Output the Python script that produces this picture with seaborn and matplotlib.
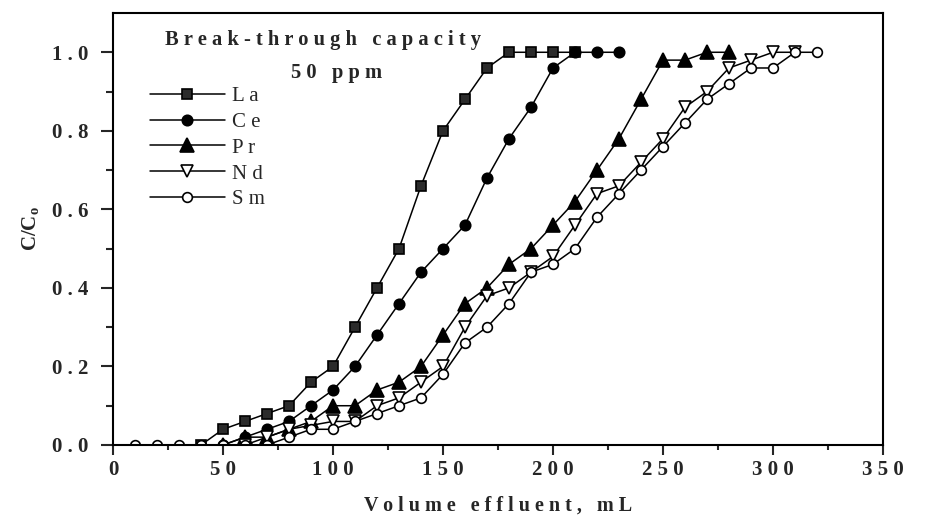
import numpy as np
import pandas as pd
import matplotlib
matplotlib.use("Agg")
import matplotlib.pyplot as plt
import seaborn as sns

# Break-through curves, 50 ppm feed, C/Co versus effluent volume (mL)
la_x = [40, 50, 60, 70, 80, 90, 100, 110, 120, 130, 140, 150, 160, 170, 180, 190, 200, 210]
la_y = [0.00, 0.04, 0.06, 0.08, 0.10, 0.16, 0.20, 0.30, 0.40, 0.50, 0.66, 0.80, 0.88, 0.96,
        1.00, 1.00, 1.00, 1.00]

ce_x = [50, 60, 70, 80, 90, 100, 110, 120, 130, 140, 150, 160, 170, 180, 190, 200, 210, 220, 230]
ce_y = [0.00, 0.02, 0.04, 0.06, 0.10, 0.14, 0.20, 0.28, 0.36, 0.44, 0.50, 0.56, 0.68, 0.78,
        0.86, 0.96, 1.00, 1.00, 1.00]

pr_x = [50, 60, 70, 80, 90, 100, 110, 120, 130, 140, 150, 160, 170, 180, 190, 200, 210, 220,
        230, 240, 250, 260, 270, 280]
pr_y = [0.00, 0.02, 0.02, 0.04, 0.06, 0.10, 0.10, 0.14, 0.16, 0.20, 0.28, 0.36, 0.40, 0.46,
        0.50, 0.56, 0.62, 0.70, 0.78, 0.88, 0.98, 0.98, 1.00, 1.00]

nd_x = [60, 70, 80, 90, 100, 110, 120, 130, 140, 150, 160, 170, 180, 190, 200, 210, 220, 230,
        240, 250, 260, 270, 280, 290, 300, 310]
nd_y = [0.00, 0.02, 0.04, 0.05, 0.06, 0.06, 0.10, 0.12, 0.16, 0.20, 0.30, 0.38, 0.40, 0.44,
        0.48, 0.56, 0.64, 0.66, 0.72, 0.78, 0.86, 0.90, 0.96, 0.98, 1.00, 1.00]

sm_x = [10, 20, 30, 40, 50, 60, 70, 80, 90, 100, 110, 120, 130, 140, 150, 160, 170, 180, 190,
        200, 210, 220, 230, 240, 250, 260, 270, 280, 290, 300, 310, 320]
sm_y = [0.00, 0.00, 0.00, 0.00, 0.00, 0.00, 0.00, 0.02, 0.04, 0.04, 0.06, 0.08, 0.10, 0.12,
        0.18, 0.26, 0.30, 0.36, 0.44, 0.46, 0.50, 0.58, 0.64, 0.70, 0.76, 0.82, 0.88, 0.92,
        0.96, 0.96, 1.00, 1.00]

series_names = ["La", "Ce", "Pr", "Nd", "Sm"]
x_ticks = [0, 50, 100, 150, 200, 250, 300, 350]
y_ticks = [0.0, 0.2, 0.4, 0.6, 0.8, 1.0]

data = {
    "La": (la_x, la_y),
    "Ce": (ce_x, ce_y),
    "Pr": (pr_x, pr_y),
    "Nd": (nd_x, nd_y),
    "Sm": (sm_x, sm_y),
}

styles = {
    "La": dict(marker="s", markersize=6.5, markerfacecolor="#2b2b2b", markeredgecolor="black"),
    "Ce": dict(marker="o", markersize=7.5, markerfacecolor="black", markeredgecolor="black"),
    "Pr": dict(marker="^", markersize=10, markerfacecolor="black", markeredgecolor="black"),
    "Nd": dict(marker="v", markersize=9, markerfacecolor="white", markeredgecolor="black"),
    "Sm": dict(marker="o", markersize=7, markerfacecolor="white", markeredgecolor="black"),
}

sns.set_theme(style="white")
serif = ["Liberation Serif", "DejaVu Serif"]
plt.rcParams["font.family"] = serif
plt.rcParams["mathtext.fontset"] = "custom"
plt.rcParams["mathtext.rm"] = "Liberation Serif:bold"
plt.rcParams["mathtext.bf"] = "Liberation Serif:bold"
plt.rcParams["mathtext.it"] = "Liberation Serif:bold"


def spaced(s, gap=" "):
    return gap.join(s)


fig = plt.figure(figsize=(9.28, 5.15), dpi=100)
ax = fig.add_axes([113 / 928, 1 - 445 / 515, 770 / 928, 432 / 515])

for name in series_names:
    xs, ys = data[name]
    df = pd.DataFrame({"volume": xs, "ratio": ys})
    sns.lineplot(data=df, x="volume", y="ratio", ax=ax, color="black", linewidth=1.1,
                 markeredgewidth=1.2, label=spaced(name), **styles[name])

ax.set_xlim(0, 350)
ax.set_ylim(0, 1.1)

ax.set_xticks(x_ticks)
ax.set_xticklabels([spaced(str(v)) for v in x_ticks])
ax.set_xticks(np.arange(25, 350, 50), minor=True)
ax.set_yticks(y_ticks)
ax.set_yticklabels([spaced(f"{v:.1f}") for v in y_ticks])
ax.set_yticks(np.arange(0.1, 1.1, 0.2), minor=True)

ax.tick_params(axis="x", which="major", direction="out", length=7, width=1.5,
               bottom=True, pad=4, labelsize=15)
ax.tick_params(axis="x", which="minor", direction="out", length=3.6, width=1.5, bottom=True)
ax.tick_params(axis="y", which="major", direction="out", length=8.6, width=1.5,
               left=True, pad=9, labelsize=15)
ax.tick_params(axis="y", which="minor", direction="out", length=5, width=1.5, left=True)
for lab in ax.get_xticklabels() + ax.get_yticklabels():
    lab.set_fontweight("bold")

for sp in ax.spines.values():
    sp.set_visible(True)
    sp.set_color("black")
    sp.set_linewidth(1.5)

ax.set_xlabel(spaced("Volume") + "   " + spaced("effluent,") + "   " + spaced("mL"),
              fontsize=14.5, fontweight="bold", labelpad=11)
ax.set_ylabel(r"$\mathbf{C/C_o}$", fontsize=15, labelpad=8)

ax.text(0.068, 0.938, spaced("Break-through") + "   " + spaced("capacity"),
        transform=ax.transAxes, fontsize=14.8, fontweight="bold", ha="left", va="center")
ax.text(0.29, 0.86, spaced("50") + "   " + spaced("ppm"),
        transform=ax.transAxes, fontsize=14.8, fontweight="bold", ha="center", va="center")

leg = ax.legend(loc="upper left", bbox_to_anchor=(0.048, 0.83), frameon=False,
                fontsize=15, handlelength=3.6, handletextpad=0.35, labelspacing=0.3,
                borderpad=0, borderaxespad=0)

fig.savefig("out.png", dpi=100)
